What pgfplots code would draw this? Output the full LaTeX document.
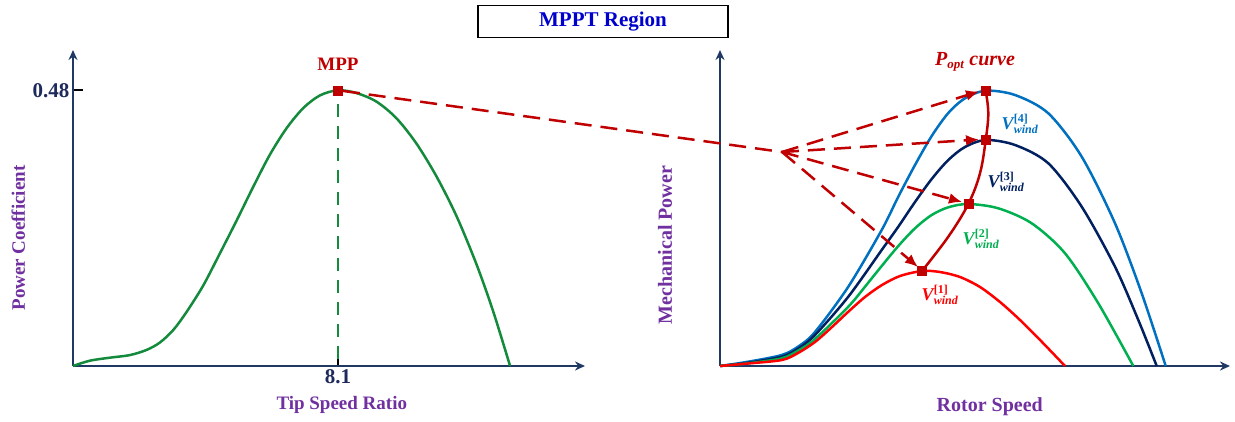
\documentclass[border=0pt]{standalone}
\usepackage{fontspec}
\setmainfont{Liberation Serif}
\usepackage{pgfplots}
\pgfplotsset{compat=1.18}
\usetikzlibrary{arrows.meta}

\definecolor{axnavy}{HTML}{1F3864}
\definecolor{mppred}{HTML}{C00000}
\definecolor{cpgreen}{HTML}{138A3C}
\definecolor{lblpurple}{HTML}{7030A0}
\definecolor{ticknavy}{HTML}{1F2A5C}
\definecolor{titleblue}{HTML}{0000CC}
\definecolor{vblue}{HTML}{0070C0}
\definecolor{vnavy}{HTML}{002060}
\definecolor{vgreen}{HTML}{00B050}
\definecolor{vred}{HTML}{FF0000}

% wind-speed label V^{[k]}_{wind}
\newcommand\Vw[1]{$\mbox{\bfseries\itshape V}^{\mbox{\fontsize{12}{12}\selectfont\bfseries [#1]}}_{\mbox{\fontsize{12}{12}\selectfont\bfseries\itshape wind}}$}

\tikzset{dsh/.style={mppred, line width=2.5pt, dash pattern=on 17pt off 9pt}}

\begin{document}
\begin{tikzpicture}[x=1pt,y=1pt]
\useasboundingbox (0,0) rectangle (1235,421);
\pgfplotsset{
  base/.style={
    scale only axis, axis lines=left, clip=false,
    axis line style={draw=axnavy, line width=2.5pt, -{Stealth[length=10pt,width=9pt]}},
    enlargelimits=false,
    tick style={black, line width=2pt}, major tick length=10pt, tick align=inside,
    label style={font=\fontsize{19}{22}\selectfont\bfseries, text=lblpurple},
    ticklabel style={font=\fontsize{21}{24}\selectfont\bfseries, text=ticknavy},
  },
}

% title box
\node[draw=black, line width=1.8pt, minimum width=250pt, minimum height=32pt,
      inner sep=0pt, font=\fontsize{21}{24}\selectfont\bfseries, text=titleblue]
      at (603,399.5) {MPPT Region};

% ---------- power coefficient vs tip speed ratio ----------
\begin{axis}[base, at={(73pt,55pt)}, anchor=origin, width=512pt, height=316pt,
  xmin=0, xmax=15.65, ymin=0, ymax=0.55,
  xtick={8.1}, xticklabels={8.1}, ytick={0.48}, yticklabels={0.48},
  xlabel={Tip Speed Ratio}, ylabel={Power Coefficient},
  xlabel style={at={(rel axis cs:0.525,-0.123)}, anchor=center},
  ylabel style={at={(rel axis cs:-0.107,0.405)}, anchor=center},
]
\addplot[cpgreen, line width=2.5pt, smooth, tension=0.5] coordinates {
 (0,0) (0.52,0.0093) (1.13,0.0145) (1.74,0.019) (2.25,0.028) (2.66,0.041)
 (3.07,0.063) (3.47,0.094) (3.98,0.140) (4.49,0.196) (5.00,0.253)
 (5.51,0.312) (6.02,0.368) (6.53,0.414) (7.04,0.449) (7.55,0.471)
 (8.1,0.48) (8.67,0.475) (9.28,0.460) (9.89,0.431) (10.50,0.387)
 (11.12,0.329) (11.73,0.260) (12.34,0.176) (12.85,0.094) (13.36,0)
};
\addplot[cpgreen, line width=2.5pt, dash pattern=on 13pt off 9pt] coordinates {(8.1,0.012) (8.1,0.48)};
\addplot[only marks, mark=square*, mark size=4.5pt, mppred] coordinates {(8.1,0.48)};
\node[font=\fontsize{19}{22}\selectfont\bfseries, text=mppred] at (axis cs:8.1,0.48) [yshift=26pt] {MPP};
\coordinate (mpp) at (axis cs:8.1,0.48);
\end{axis}

% ---------- mechanical power vs rotor speed ----------
\begin{axis}[base, at={(720pt,55pt)}, anchor=origin, width=510pt, height=316pt,
  xmin=0, xmax=510, ymin=0, ymax=316,
  xtick=\empty, ytick=\empty,
  xlabel={Rotor Speed}, ylabel={Mechanical Power},
  label style={font=\fontsize{20}{24}\selectfont\bfseries},
  xlabel style={at={(rel axis cs:0.529,-0.130)}, anchor=center},
  ylabel style={at={(rel axis cs:-0.108,0.383)}, anchor=center},
]
% V4
\addplot[vblue, line width=2.5pt, smooth, tension=0.5] coordinates {
 (0,0) (28.3,4.3) (61.7,11) (78.3,19.5) (95,34) (128.3,79.3) (161.7,136) (178.3,169.3)
 (195,201) (211.7,230) (228.3,253) (245,267.7) (265.7,275.3) (295,271)
 (328.3,252.7) (361.7,209.3) (395,142.7) (421.7,72.7) (445.7,0)
};
% V3
\addplot[vnavy, line width=2.5pt, smooth, tension=0.5] coordinates {
 (0,0) (28.3,3.3) (61.7,9.3) (78.3,17.5) (95,31) (128.3,69.3) (161.7,116) (178.3,139.3)
 (195,164) (211.7,187) (228.3,206) (245,219) (265.7,226) (295,221)
 (328.3,202.7) (361.7,159.3) (395,99.3) (418.3,46) (436.7,0)
};
% V2
\addplot[vgreen, line width=2.5pt, smooth, tension=0.5] coordinates {
 (0,0) (28.3,2.7) (61.7,7.7) (78.3,15.5) (95,27) (128.3,59.3) (145,79.3) (161.7,100)
 (178.3,120) (195,137.7) (211.7,151) (228.3,158.7) (248.3,162) (278.3,157.7)
 (311.7,142.7) (345,112.7) (378.3,62.7) (413.3,0)
};
% V1
\addplot[vred, line width=2.5pt, smooth, tension=0.5] coordinates {
 (0,0) (28,2.5) (62,6) (78,13) (95,24) (112,39) (128,54) (145,69) (162,81)
 (180,90) (202,95) (220,94) (240,89) (260,79) (280,64) (300,46) (322,24) (345,0)
};
% optimum power curve through the peaks
\addplot[mppred, line width=2.5pt, smooth, tension=0.6] coordinates {
 (202,95) (228.3,129.3) (248.3,162) (260,192.7) (265.7,226) (268.3,252.7) (265.7,275.3)
};
% dashed pointers to each peak
\addplot[dsh, -{Latex[length=13pt,width=11pt]}] coordinates {(62,214) (259,274.5)};
\addplot[dsh, -{Latex[length=13pt,width=11pt]}] coordinates {(62,214) (259,226.5)};
\addplot[dsh, -{Latex[length=13pt,width=11pt]}] coordinates {(62,214) (242,164)};
\addplot[dsh, -{Latex[length=13pt,width=11pt]}] coordinates {(62,214) (198,99)};
\addplot[only marks, mark=square*, mark size=4.5pt, mppred] coordinates {
 (265.7,275.3) (265.7,226) (248.3,162) (202,95)
};
\coordinate (hub) at (axis cs:62,214);
\node[text=vblue,  font=\fontsize{18}{20}\selectfont] at (axis cs:300,242) {\Vw{4}};
\node[text=vnavy,  font=\fontsize{18}{20}\selectfont] at (axis cs:286,184) {\Vw{3}};
\node[text=vgreen, font=\fontsize{18}{20}\selectfont] at (axis cs:261,127) {\Vw{2}};
\node[text=vred,   font=\fontsize{18}{20}\selectfont] at (axis cs:220,71)  {\Vw{1}};
\node[text=mppred, font=\fontsize{20}{24}\selectfont\bfseries\itshape] at (axis cs:255,304)
  {$\mbox{P}_{\mbox{\fontsize{13}{13}\selectfont\bfseries\itshape opt}}$ curve};
\end{axis}

% dashed link from the MPP to the rotor-speed chart
\draw[dsh, shorten <=5pt] (mpp) -- (hub);
\end{tikzpicture}
\end{document}
